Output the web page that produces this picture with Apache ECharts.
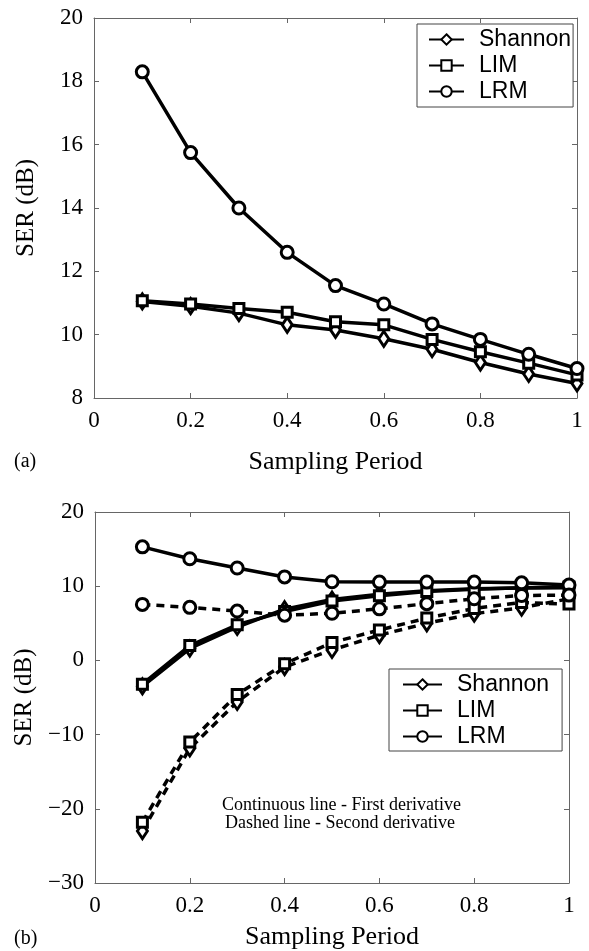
<!DOCTYPE html>
<html>
<head>
<meta charset="utf-8">
<script src="https://cdn.jsdelivr.net/npm/echarts@6/dist/echarts.min.js"></script>
<style>
html,body{margin:0;padding:0;background:#fff;}
#chart{width:589px;height:951px;}
</style>
</head>
<body>
<div id="chart"></div>
<script>
// ---- data ----
const periods = [0.1, 0.2, 0.3, 0.4, 0.5, 0.6, 0.7, 0.8, 0.9, 1.0];
const seriesNames = ['Shannon', 'LIM', 'LRM'];

// panel (a)
const aShannon = [11.05, 10.9, 10.68, 10.31, 10.15, 9.87, 9.54, 9.12, 8.76, 8.46];
const aLIM     = [11.07, 10.97, 10.83, 10.71, 10.41, 10.31, 9.85, 9.46, 9.1, 8.73];
const aLRM     = [18.3, 15.75, 14.0, 12.6, 11.55, 10.97, 10.34, 9.85, 9.38, 8.93];

// panel (b) - first derivative (continuous)
const bShannon1 = [-3.5, 1.6, 4.5, 6.9, 8.2, 8.9, 9.4, 9.65, 9.75, 9.8];
const bLIM1     = [-3.2, 2.0, 4.8, 6.6, 8.0, 8.7, 9.3, 9.6, 9.8, 9.9];
const bLRM1     = [15.3, 13.7, 12.45, 11.25, 10.6, 10.55, 10.55, 10.55, 10.45, 10.15];
// panel (b) - second derivative (dashed)
const bShannon2 = [-23.0, -11.85, -5.6, -0.9, 1.4, 3.4, 5.0, 6.3, 7.1, 8.3];
const bLIM2     = [-21.8, -11.0, -4.6, -0.45, 2.4, 4.1, 5.7, 7.0, 7.8, 7.6];
const bLRM2     = [7.55, 7.15, 6.65, 6.1, 6.35, 6.95, 7.65, 8.3, 8.75, 8.8];

const xTicks = {min: 0, max: 1, interval: 0.2};
const aYTicks = {min: 8, max: 20, interval: 2};
const bYTicks = {min: -30, max: 20, interval: 10};

const notes = ['Continuous line - First derivative', 'Dashed line - Second derivative'];
const xTitle = 'Sampling Period';
const yTitle = 'SER (dB)';

// ---- styling ----
const SERIF = "'Liberation Serif','Times New Roman',serif";
const SANS = "'Liberation Sans',Arial,sans-serif";
const AX = '#666';
const symbols = {Shannon: 'diamond', LIM: 'rect', LRM: 'circle'};
const symSizes = {Shannon: [10, 15], LIM: 10, LRM: 12};

function fmt(v) {
  let s = String(+(+v).toFixed(1));
  return s.replace('-', '\u2212');
}
function pairs(arr) { return periods.map((x, i) => [x, arr[i]]); }

function mkX(grid, nameGap, main) {
  return {
    gridIndex: grid, type: 'value', min: xTicks.min, max: xTicks.max, interval: xTicks.interval,
    position: main ? 'bottom' : 'top',
    axisLine: {show: true, onZero: false, lineStyle: {color: AX, width: 1}},
    axisTick: {show: true, inside: true, length: 5, lineStyle: {color: AX, width: 1}},
    splitLine: {show: false},
    axisLabel: {show: main, formatter: fmt, fontFamily: SERIF, fontSize: 23, color: '#000', margin: 11},
    name: main ? xTitle : '', nameLocation: 'middle', nameGap: nameGap,
    nameTextStyle: {fontFamily: SERIF, fontSize: 26, color: '#000'}
  };
}
function mkY(grid, t, main) {
  return {
    gridIndex: grid, type: 'value', min: t.min, max: t.max, interval: t.interval,
    position: main ? 'left' : 'right',
    axisLine: {show: true, onZero: false, lineStyle: {color: AX, width: 1}},
    axisTick: {show: true, inside: true, length: 5, lineStyle: {color: AX, width: 1}},
    splitLine: {show: false},
    axisLabel: {show: main, formatter: fmt, fontFamily: SERIF, fontSize: 23, color: '#000', margin: 11},
    name: main ? yTitle : '', nameLocation: 'middle', nameGap: 55, nameRotate: 90,
    nameTextStyle: {fontFamily: SERIF, fontSize: 25, color: '#000'}
  };
}
function mkS(name, arr, xi, yi, dashed) {
  return {
    type: 'line', name: name, xAxisIndex: xi, yAxisIndex: yi, data: pairs(arr),
    symbol: symbols[name], symbolSize: symSizes[name], showSymbol: true,
    lineStyle: {color: '#000', width: 3.5, type: dashed ? [8, 6] : 'solid'},
    itemStyle: {color: '#fff', borderColor: '#000', borderWidth: 3},
    emphasis: {disabled: true}, animation: false
  };
}
function mkLegend(left, top, pad, w) {
  return {
    show: true, orient: 'vertical', left: left, top: top, data: seriesNames,
    padding: pad, itemWidth: w, itemHeight: 13, itemGap: 3,
    borderColor: '#444', borderWidth: 1, backgroundColor: '#fff',
    textStyle: {fontFamily: SANS, fontSize: 23, color: '#000', padding: [0, 0, 0, 10]},
    selectedMode: false
  };
}

const chart = echarts.init(document.getElementById('chart'), null, {renderer: 'canvas'});
chart.setOption({
  backgroundColor: '#fff',
  animation: false,
  grid: [
    {left: 94, right: 12, top: 18, height: 380, containLabel: false},
    {left: 95, right: 20, top: 512, height: 371, containLabel: false}
  ],
  xAxis: [mkX(0, 51, true), mkX(0, 0, false), mkX(1, 41, true), mkX(1, 0, false)],
  yAxis: [mkY(0, aYTicks, true), mkY(0, aYTicks, false), mkY(1, bYTicks, true), mkY(1, bYTicks, false)],
  legend: [mkLegend(417, 24, [4, 2, 4, 11], 35), mkLegend(389, 669, [4, 13, 3, 13], 39)],
  series: [
    mkS('Shannon', aShannon, 0, 0, false),
    mkS('LIM', aLIM, 0, 0, false),
    mkS('LRM', aLRM, 0, 0, false),
    mkS('Shannon', bShannon1, 2, 2, false),
    mkS('LIM', bLIM1, 2, 2, false),
    mkS('LRM', bLRM1, 2, 2, false),
    mkS('Shannon', bShannon2, 2, 2, true),
    mkS('LIM', bLIM2, 2, 2, true),
    mkS('LRM', bLRM2, 2, 2, true)
  ],
  graphic: [
    {type: 'text', left: 14, top: 452, style: {text: '(a)', font: "20px 'Liberation Serif','Times New Roman',serif", fill: '#000'}},
    {type: 'text', left: 14, top: 929, style: {text: '(b)', font: "20px 'Liberation Serif','Times New Roman',serif", fill: '#000'}},
    {type: 'text', left: 222, top: 796, style: {text: notes[0], font: "18px 'Liberation Serif','Times New Roman',serif", fill: '#000'}},
    {type: 'text', left: 225, top: 814, style: {text: notes[1], font: "18px 'Liberation Serif','Times New Roman',serif", fill: '#000'}}
  ]
});
</script>
</body>
</html>
